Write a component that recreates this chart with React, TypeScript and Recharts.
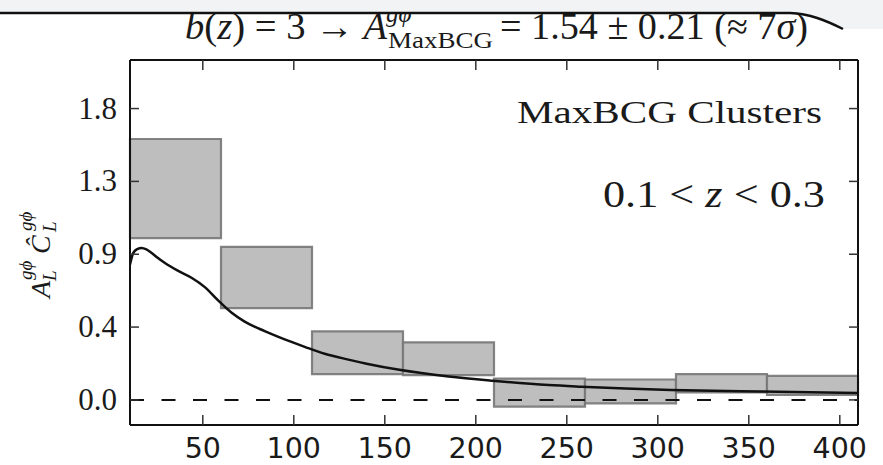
import React from 'react';
import {
  ComposedChart, Line, XAxis, YAxis, ReferenceArea, ReferenceLine,
} from 'recharts';

// Bin edges (multipole L) and box ranges (A * C_L)
const binLo = [10, 60, 110, 160, 210, 260, 310, 360];
const binHi = [60, 110, 160, 210, 260, 310, 360, 410];
const boxLow = [1.0, 0.567, 0.159, 0.153, -0.041, -0.021, 0.047, 0.031];
const boxHigh = [1.612, 0.945, 0.424, 0.356, 0.132, 0.126, 0.159, 0.148];

// Theory curve
const curveL = [10, 11.8, 14, 16.4, 19, 21.9, 25, 29.2, 36.5, 43.8, 51.1, 58.4, 65.7, 73, 84, 95, 106, 117, 130, 140, 158, 185, 209, 240, 258, 307, 357, 410];
const curveV = [0.836, 0.908, 0.932, 0.939, 0.93, 0.908, 0.88, 0.846, 0.797, 0.755, 0.697, 0.615, 0.54, 0.484, 0.425, 0.374, 0.328, 0.285, 0.249, 0.224, 0.186, 0.145, 0.119, 0.092, 0.082, 0.062, 0.052, 0.043];

const xTicks = [50, 100, 150, 200, 250, 300, 350, 400];
const yTicks = [0, 0.45, 0.9, 1.35, 1.8];
const yTickLabels = ['0.0', '0.4', '0.9', '1.3', '1.8'];
const xDomain: [number, number] = [10, 410];
const yDomain: [number, number] = [-0.155, 2.1];

const data = curveL.map((l, i) => ({ l, v: curveV[i] }));

const SERIF = '"Liberation Serif", "DejaVu Serif", serif';
const SANS = '"DejaVu Sans", sans-serif';
const TXT = '#1a1a1a';

const LeftLabel = (p: any) => (
  <text x={p.x - 13} y={p.y + 10} textAnchor="end" fontFamily={SERIF} fontSize={31} fill={TXT}>
    {yTickLabels[p.index]}
  </text>
);
const BottomLabel = (p: any) => (
  <text x={p.x} y={p.y + 33} textAnchor="middle" fontFamily={SANS} fontSize={28.5} fill={TXT}>
    {p.payload.value}
  </text>
);
const NoLabel = () => <g />;

const frame = { stroke: '#111', strokeWidth: 2 };
const tickLn = { stroke: '#333', strokeWidth: 1.5 };

export default function App() {
  return (
    <div style={{ position: 'absolute', left: 0, top: 0, width: 883, height: 465, background: '#fff' }}>
      <ComposedChart
        width={883}
        height={465}
        data={data}
        margin={{ top: 60, right: 25, bottom: 0, left: 10 }}
      >
        {/* label axes */}
        <XAxis xAxisId="x" dataKey="l" type="number" domain={xDomain} ticks={xTicks}
          allowDataOverflow orientation="bottom" height={40} tickSize={0} tickMargin={0}
          tickLine={false} axisLine={frame} tick={BottomLabel} interval={0} />
        <YAxis yAxisId="y" type="number" domain={yDomain} ticks={yTicks}
          allowDataOverflow width={120} tickSize={0} tickMargin={0}
          tickLine={false} axisLine={frame} tick={LeftLabel} interval={0} />
        {/* inward tick axes */}
        <XAxis xAxisId="xb" dataKey="l" type="number" domain={xDomain} ticks={xTicks}
          allowDataOverflow orientation="bottom" mirror tickSize={10} tickLine={tickLn}
          axisLine={false} tick={NoLabel} interval={0} />
        <XAxis xAxisId="xt" dataKey="l" type="number" domain={xDomain} ticks={xTicks}
          allowDataOverflow orientation="top" mirror tickSize={10} tickLine={tickLn}
          axisLine={frame} tick={NoLabel} interval={0} />
        <YAxis yAxisId="yl" type="number" domain={yDomain} ticks={yTicks}
          allowDataOverflow orientation="left" mirror tickSize={9} tickLine={tickLn}
          axisLine={false} tick={NoLabel} interval={0} />
        <YAxis yAxisId="yr" type="number" domain={yDomain} ticks={yTicks}
          allowDataOverflow orientation="right" mirror tickSize={9} tickLine={tickLn}
          axisLine={frame} tick={NoLabel} interval={0} />
        {binLo.map((lo, i) => (
          <ReferenceArea key={i} xAxisId="x" yAxisId="y" x1={lo} x2={binHi[i]}
            y1={boxLow[i]} y2={boxHigh[i]} fill="#bebebe" fillOpacity={1}
            stroke="#777" strokeWidth={2.2} strokeOpacity={0.9} ifOverflow="visible" />
        ))}
        <ReferenceLine xAxisId="x" yAxisId="y" y={0} stroke="#111" strokeWidth={2}
          strokeDasharray="14 17.5" />
        <Line xAxisId="x" yAxisId="y" dataKey="v" type="monotone" stroke="#111"
          strokeWidth={2.5} dot={false} activeDot={false} isAnimationActive={false} />
      </ComposedChart>
      <svg width={883} height={465} style={{ position: 'absolute', left: 0, top: 0, pointerEvents: 'none' }}>
        {/* annotations */}
        <text x={517} y={123} fontFamily={SERIF} fontSize={31} fill={TXT}
          textLength={305} lengthAdjust="spacingAndGlyphs">MaxBCG Clusters</text>
        <text x={603} y={207} fontFamily={SERIF} fontSize={37} fill={TXT}
          textLength={222} lengthAdjust="spacingAndGlyphs">
          0.1 &lt; <tspan fontStyle="italic">z</tspan> &lt; 0.3
        </text>
        {/* y label */}
        <g transform="translate(50,247) rotate(-90)" fontFamily={SERIF} fill={TXT}>
          <text x={-51} y={0} fontSize={28} fontStyle="italic">A</text>
          <text x={-34} y={6} fontSize={19} fontStyle="italic">L</text>
          <text x={-33} y={-18} fontSize={19} fontStyle="italic">gϕ</text>
          <text x={-7} y={0} fontSize={28} fontStyle="italic">Ĉ</text>
          <text x={15} y={6} fontSize={19} fontStyle="italic">L</text>
          <text x={16} y={-18} fontSize={19} fontStyle="italic">gϕ</text>
        </g>
        {/* title */}
        <text x={185} y={39} fontFamily={SERIF} fontSize={37} fill={TXT}
          textLength={202} lengthAdjust="spacingAndGlyphs">
          <tspan fontStyle="italic">b</tspan>(<tspan fontStyle="italic">z</tspan>) = 3 → <tspan fontStyle="italic">Â</tspan>
        </text>
        <text x={386} y={22} fontFamily={SERIF} fontSize={25} fontStyle="italic" fill={TXT}>gϕ</text>
        <text x={388} y={48} fontFamily={SERIF} fontSize={24} fill={TXT}
          textLength={105} lengthAdjust="spacingAndGlyphs">MaxBCG</text>
        <text x={500} y={39} fontFamily={SERIF} fontSize={37} fill={TXT}
          textLength={308} lengthAdjust="spacingAndGlyphs">
          = 1.54 ± 0.21 (≈ 7<tspan fontStyle="italic">σ</tspan>)
        </text>
        {/* top screenshot edge */}
        <path d="M0,0 H883 V29 H843 C825,20 810,14 790,13 H0 Z" fill="#f2f3f5" />
        <path d="M0,13 H790 C810,14 825,20 843,29" fill="none" stroke="#111" strokeWidth={2.5} />
      </svg>
    </div>
  );
}
